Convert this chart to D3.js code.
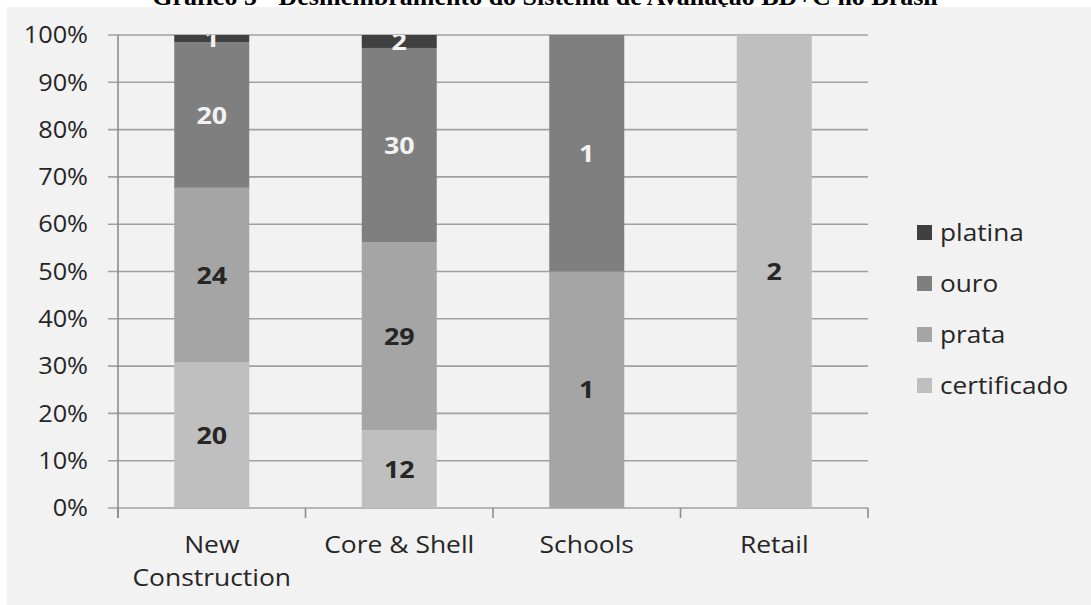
<!DOCTYPE html>
<html>
<head>
<meta charset="utf-8">
<script src="https://cdn.jsdelivr.net/npm/d3@7"></script>
<style>
  body { margin: 0; background: #fff; }
  text { font-family: "Open Sans", sans-serif; }
</style>
</head>
<body>
<div id="chart"></div>
<script>
var width = 1091;
var height = 605;

var categories = ["New Construction", "Core & Shell", "Schools", "Retail"];
var levels = ["certificado", "prata", "ouro", "platina"];
var certificado = [20, 12, 0, 2];
var prata = [24, 29, 1, 0];
var ouro = [20, 30, 1, 0];
var platina = [1, 2, 0, 0];
var yTicks = [0, 0.1, 0.2, 0.3, 0.4, 0.5, 0.6, 0.7, 0.8, 0.9, 1];

var colors = {certificado: "#bfbfbf", prata: "#a5a5a5", ouro: "#7f7f7f", platina: "#404040"};
var labelColors = {certificado: "#262626", prata: "#262626", ouro: "#f2f2f2", platina: "#f2f2f2"};

var plot = {left: 118, right: 868, top: 35, bottom: 508};

var rows = categories.map(function (c, i) {
  return {cat: c, certificado: certificado[i], prata: prata[i], ouro: ouro[i], platina: platina[i]};
});

var svg = d3.select("#chart").append("svg")
  .attr("width", width)
  .attr("height", height);

// title, mostly cut off above the panel
svg.append("text")
  .attr("x", 545)
  .attr("y", 5)
  .attr("text-anchor", "middle")
  .style("font-family", "'Liberation Serif', serif")
  .style("font-weight", "bold")
  .style("font-size", "26px")
  .style("fill", "#000")
  .text("Gráfico 5 - Desmembramento do Sistema de Avaliação BD+C no Brasil");

svg.append("rect")
  .attr("x", 7).attr("y", 7)
  .attr("width", width - 7).attr("height", height - 7)
  .attr("fill", "#f2f2f2");

var x = d3.scaleBand()
  .domain(categories)
  .range([plot.left, plot.right])
  .paddingInner(0.6)
  .paddingOuter(0.3);

var y = d3.scaleLinear()
  .domain([0, 1])
  .range([plot.bottom, plot.top]);

// text drawn a little wide
function putText(sel, tx, ty, sx) {
  sel.attr("transform", "translate(" + tx + "," + ty + ") scale(" + sx + ",1)");
}

// gridlines
svg.append("g").selectAll("line")
  .data(yTicks)
  .enter().append("line")
  .attr("x1", plot.left - 10)
  .attr("x2", plot.right)
  .attr("y1", function (d) { return y(d); })
  .attr("y2", function (d) { return y(d); })
  .attr("stroke", "#a0a0a0")
  .attr("stroke-width", 1.6);

// y tick labels
svg.append("g").selectAll("text")
  .data(yTicks)
  .enter().append("text")
  .attr("text-anchor", "end")
  .attr("dy", "0.36em")
  .style("font-size", "23px")
  .style("fill", "#262626")
  .each(function (d) { putText(d3.select(this), 88, y(d), 1.1); })
  .text(d3.format(".0%"));

// axes lines
svg.append("line")
  .attr("x1", plot.left).attr("x2", plot.left)
  .attr("y1", plot.top).attr("y2", plot.bottom + 10)
  .attr("stroke", "#8c8c8c").attr("stroke-width", 1.6);

var bounds = categories.map(function (c) { return x(c) - x.step() * x.paddingInner() / 2; });
bounds[0] = plot.left;
bounds.push(plot.right);
svg.append("g").selectAll("line")
  .data(bounds)
  .enter().append("line")
  .attr("x1", function (d) { return d; })
  .attr("x2", function (d) { return d; })
  .attr("y1", plot.bottom)
  .attr("y2", plot.bottom + 10)
  .attr("stroke", "#8c8c8c").attr("stroke-width", 1.6);

var stack = d3.stack().keys(levels).offset(d3.stackOffsetExpand);
var series = stack(rows);

var layers = svg.append("g").selectAll("g")
  .data(series)
  .enter().append("g")
  .attr("fill", function (d) { return colors[d.key]; });

layers.selectAll("rect")
  .data(function (d) { return d; })
  .enter().append("rect")
  .attr("x", function (d) { return x(d.data.cat); })
  .attr("width", x.bandwidth())
  .attr("y", function (d) { return y(d[1]); })
  .attr("height", function (d) { return y(d[0]) - y(d[1]); });

svg.append("clipPath").attr("id", "plotclip")
  .append("rect")
  .attr("x", 0).attr("y", plot.top)
  .attr("width", width).attr("height", height - plot.top);

// value labels
var labels = svg.append("g").attr("clip-path", "url(#plotclip)");
series.forEach(function (s) {
  s.forEach(function (d) {
    var v = d.data[s.key];
    if (!v) return;
    labels.append("text")
      .attr("text-anchor", "middle")
      .attr("dy", "0.36em")
      .style("font-size", "24px")
      .style("font-weight", "bold")
      .style("fill", labelColors[s.key])
      .call(putText, x(d.data.cat) + x.bandwidth() / 2, y((d[0] + d[1]) / 2), 1.12)
      .text(v);
  });
});

// category labels
var catLines = {"New Construction": ["New", "Construction"]};
categories.forEach(function (c) {
  var lines = catLines[c] || [c];
  lines.forEach(function (t, i) {
    svg.append("text")
      .attr("text-anchor", "middle")
      .style("font-size", "23px")
      .style("fill", "#262626")
      .call(putText, x(c) + x.bandwidth() / 2, 553 + i * 33, 1.15)
      .text(t);
  });
});

// legend
var legend = svg.append("g");
levels.slice().reverse().forEach(function (k, i) {
  var ly = 225 + i * 51;
  legend.append("rect")
    .attr("x", 917).attr("y", ly)
    .attr("width", 15).attr("height", 15)
    .attr("fill", colors[k]);
  legend.append("text")
    .attr("dy", "0.36em")
    .style("font-size", "23px")
    .style("fill", "#262626")
    .call(putText, 940, ly + 7.5, 1.14)
    .text(k);
});
</script>
</body>
</html>
